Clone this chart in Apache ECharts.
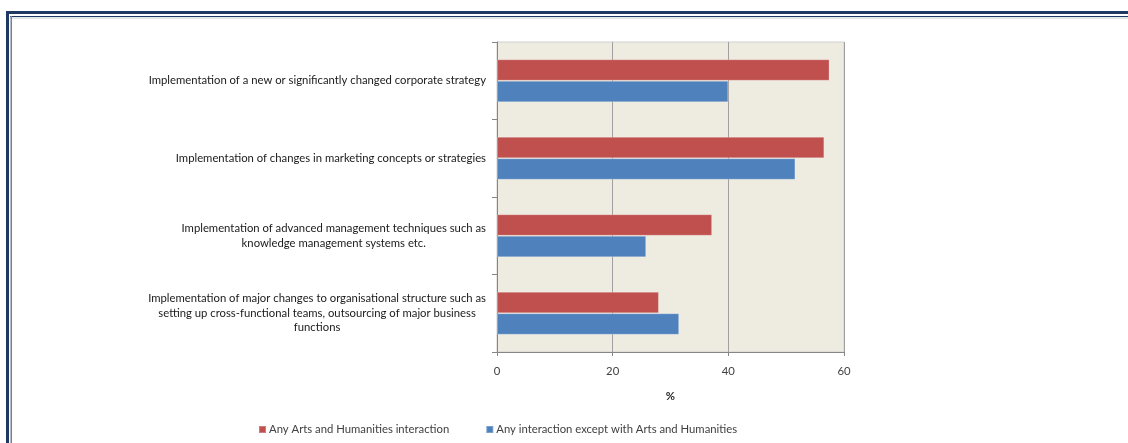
<!DOCTYPE html>
<html>
<head>
<meta charset="utf-8">
<script src="https://cdn.jsdelivr.net/npm/echarts@6/dist/echarts.min.js"></script>
<style>
  html, body { margin: 0; padding: 0; background: #ffffff; }
  #chart { width: 1128px; height: 443px; }
</style>
</head>
<body>
<div id="chart"></div>
<script>
// Innovation activities, listed top to bottom
const categories = [
  'Implementation of a new or significantly changed corporate strategy',
  'Implementation of changes in marketing concepts or strategies',
  'Implementation of advanced management techniques such as\nknowledge management systems etc.',
  'Implementation of major changes to organisational structure such as\nsetting up cross-functional teams, outsourcing of major business\nfunctions'
];

// Share of firms (%)
const artsHumanities = [57.5, 56.6, 37.2, 28.0];
const exceptArtsHumanities = [40.0, 51.6, 25.8, 31.5];

const seriesNames = [
  'Any Arts and Humanities interaction',
  'Any interaction except with Arts and Humanities'
];

const xTicks = { min: 0, max: 60, interval: 20 };
const axisName = '%';

const FONT = 'Lato';
const FS = 11.3;

const chart = echarts.init(document.getElementById('chart'), null, { renderer: 'canvas' });

chart.setOption({
  backgroundColor: '#ffffff',
  animation: false,
  graphic: [
    // double frame along the top and left edges
    { type: 'rect', shape: { x: 6, y: 11, width: 1122, height: 3 }, style: { fill: '#1F3864' } },
    { type: 'rect', shape: { x: 6, y: 11, width: 3, height: 432 }, style: { fill: '#1F3864' } },
    { type: 'rect', shape: { x: 10, y: 16, width: 1118, height: 1 }, style: { fill: '#1F3864' } },
    { type: 'rect', shape: { x: 10, y: 17.5, width: 1118, height: 1 }, style: { fill: '#C5CEDC' } },
    { type: 'rect', shape: { x: 10.5, y: 16, width: 1.5, height: 427 }, style: { fill: '#6F7F9C' } }
  ],
  legend: {
    data: seriesNames,
    left: 253,
    top: 419,
    icon: 'rect',
    itemWidth: 7,
    itemHeight: 7,
    itemGap: 36,
    textStyle: { fontFamily: FONT, fontSize: FS, color: '#404040', padding: [0, 0, 0, -2] }
  },
  grid: {
    left: 497,
    right: 284,
    top: 42,
    bottom: 91,
    show: true,
    backgroundColor: '#EEECE1',
    borderColor: '#CFCFCF',
    borderWidth: 1,
    containLabel: false
  },
  xAxis: {
    type: 'value',
    min: xTicks.min,
    max: xTicks.max,
    interval: xTicks.interval,
    name: axisName,
    nameLocation: 'middle',
    nameGap: 39,
    nameTextStyle: { fontFamily: FONT, fontSize: FS, fontWeight: 'bold', color: '#262626' },
    axisLine: { show: true, lineStyle: { color: '#868686', width: 1 } },
    axisTick: { show: true, length: 4, lineStyle: { color: '#868686' } },
    axisLabel: { fontFamily: FONT, fontSize: FS, color: '#404040', margin: 14 },
    splitLine: { show: true, lineStyle: { color: '#A0A0A0', width: 1 } }
  },
  yAxis: {
    type: 'category',
    inverse: true,
    data: categories,
    axisLine: { show: true, lineStyle: { color: '#868686', width: 1 } },
    axisTick: { show: true, length: 5, lineStyle: { color: '#868686' } },
    axisLabel: {
      margin: 11,
      formatter: function (v) {
        return v.split('\n').map(function (l) { return '{c|' + l + '}'; }).join('\n');
      },
      rich: {
        c: { fontFamily: FONT, fontSize: FS, color: '#1A1A1A', align: 'center', lineHeight: 14.5 }
      }
    },
    splitLine: { show: false }
  },
  series: [
    {
      name: seriesNames[0],
      type: 'bar',
      data: artsHumanities,
      barGap: '0%',
      barCategoryGap: '44.5%',
      itemStyle: { color: '#C0504D', borderColor: 'rgba(255,255,255,0.25)', borderWidth: 1 }
    },
    {
      name: seriesNames[1],
      type: 'bar',
      data: exceptArtsHumanities,
      barGap: '0%',
      barCategoryGap: '44.5%',
      itemStyle: { color: '#4F81BD', borderColor: 'rgba(255,255,255,0.25)', borderWidth: 1 }
    }
  ]
});
</script>
</body>
</html>
